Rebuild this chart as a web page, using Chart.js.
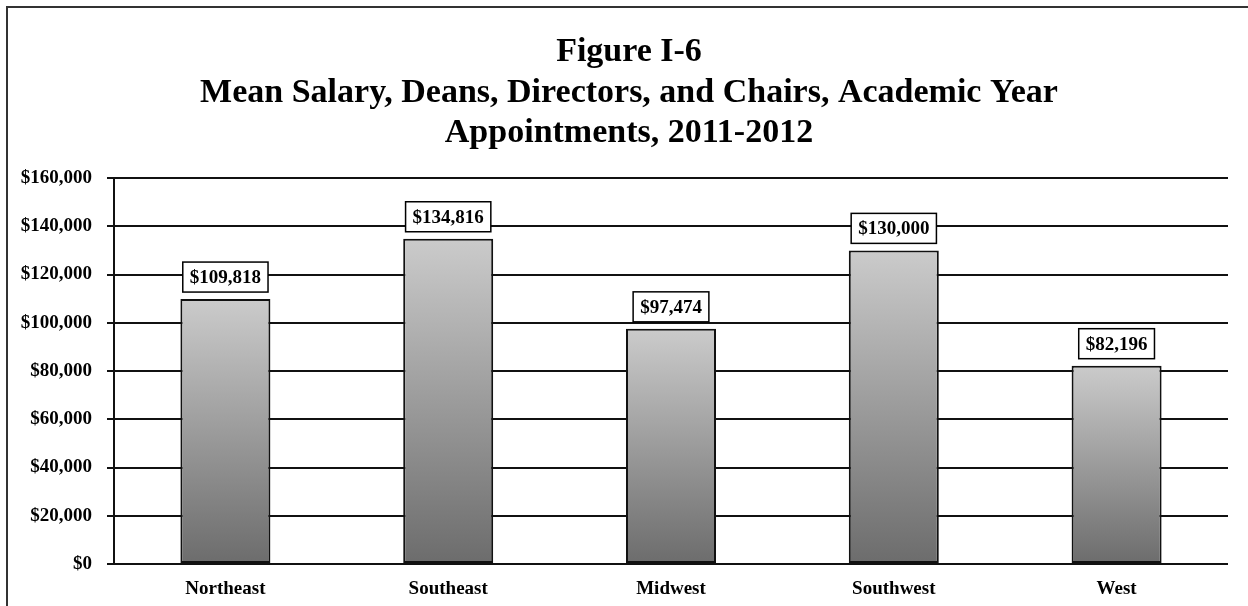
<!DOCTYPE html>
<html>
<head>
<meta charset="utf-8">
<title>Figure I-6</title>
<script src="https://cdn.jsdelivr.net/npm/chart.js@4/dist/chart.umd.min.js"></script>
<style>
  html, body { margin: 0; padding: 0; background: #fff; }
  #wrap { position: relative; width: 1248px; height: 606px; overflow: hidden; }
  #frame { position: absolute; left: 6px; top: 6px; width: 1260px; height: 620px;
           border-left: 2px solid #333; border-top: 2px solid #333; pointer-events: none; }
  canvas { display: block; }
</style>
</head>
<body>
<div id="wrap">
  <canvas id="salaryChart" width="1248" height="606"></canvas>
  <div id="frame"></div>
</div>
<script>
// Figure I-6 data
const titleLines = ['Figure I-6', 'Mean Salary, Deans, Directors, and Chairs, Academic Year', 'Appointments, 2011-2012']
const regions = ['Northeast', 'Southeast', 'Midwest', 'Southwest', 'West']
const meanSalary = [109818, 134816, 97474, 130000, 82196]
const yTicks = [0, 20000, 40000, 60000, 80000, 100000, 120000, 140000, 160000]

const serif = '"Liberation Serif", "Times New Roman", serif'
const money = v => '$' + v.toLocaleString('en-US')

// gradient per bar, light at the top, dark at the base
function barFill(context) {
	const chart = context.chart
	const y = chart.scales.y
	if (!y || !chart.chartArea) return '#999'
	const top = y.getPixelForValue(context.raw)
	const base = y.getPixelForValue(0)
	const g = chart.ctx.createLinearGradient(0, top, 0, base)
	g.addColorStop(0, '#cbcbcb')
	g.addColorStop(1, '#6c6c6c')
	return g
}

// three line title, centred on the framed box rather than the canvas
const boxTitle = {
	id: 'boxTitle',
	afterDraw(chart) {
		const ctx = chart.ctx
		ctx.save()
		ctx.font = 'bold 34px ' + serif
		ctx.fillStyle = '#000'
		ctx.textAlign = 'center'
		ctx.textBaseline = 'alphabetic'
		titleLines.forEach((line, i) => {
			ctx.fillText(line, 629, 61 + i * 40.5)
		})
		ctx.restore()
	},
}

// boxed value labels above the bars
const boxLabels = {
	id: 'boxLabels',
	afterDatasetsDraw(chart) {
		const ctx = chart.ctx
		const meta = chart.getDatasetMeta(0)
		ctx.save()
		ctx.font = 'bold 19px ' + serif
		ctx.textAlign = 'center'
		ctx.textBaseline = 'middle'
		meta.data.forEach((bar, i) => {
			const text = money(meanSalary[i])
			const w = ctx.measureText(text).width + 14
			const h = 30
			const x = bar.x - w / 2
			const y = bar.y - 7 - h
			ctx.fillStyle = '#fff'
			ctx.fillRect(x, y, w, h)
			ctx.lineWidth = 1.5
			ctx.strokeStyle = '#000'
			ctx.strokeRect(x, y, w, h)
			ctx.fillStyle = '#000'
			ctx.fillText(text, bar.x, y + h / 2 + 1)
		})
		ctx.restore()
	},
}

const salaryChart = new Chart(document.getElementById('salaryChart').getContext('2d'), {
	type: 'bar',
	data: {
		labels: regions,
		datasets: [
			{
				label: 'Mean Salary',
				data: meanSalary,
				backgroundColor: barFill,
				borderColor: '#111',
				borderWidth: 2,
				borderSkipped: false,
				categoryPercentage: 1,
				barPercentage: 0.404,
			},
		],
	},
	options: {
		responsive: false,
		animation: false,
		layout: { padding: { top: 178, right: 20, bottom: 6, left: 0 } },
		plugins: {
			legend: { display: false },
			tooltip: { enabled: false },
			title: { display: false },
		},
		scales: {
			x: {
				afterFit: scale => {
					scale.height = 36
				},
				grid: { display: false, drawTicks: false },
				border: { display: false },
				ticks: {
					color: '#000',
					padding: 14,
					font: { family: serif, size: 19, weight: 'bold' },
				},
			},
			y: {
				min: 0,
				max: 160000,
				afterBuildTicks: scale => {
					scale.ticks = yTicks.map(v => ({ value: v }))
				},
				afterFit: scale => {
					scale.width = 114
				},
				grid: { color: '#111', lineWidth: 2, tickLength: 7, drawTicks: true },
				border: { display: true, color: '#111', width: 2 },
				ticks: {
					color: '#000',
					padding: 15,
					font: { family: serif, size: 19, weight: 'bold' },
					callback: v => money(v),
				},
			},
		},
	},
	plugins: [boxLabels, boxTitle],
})
</script>
</body>
</html>
